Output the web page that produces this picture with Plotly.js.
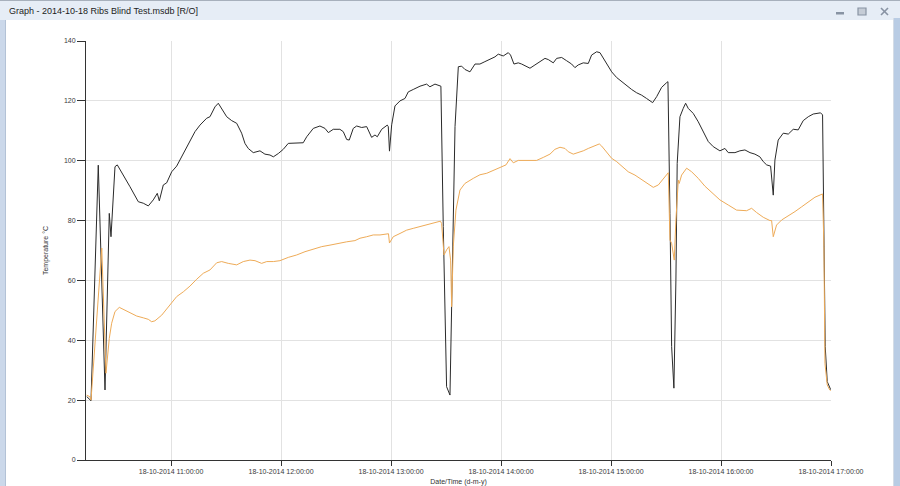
<!DOCTYPE html>
<html>
<head>
<meta charset="utf-8">
<script src="https://cdn.plot.ly/plotly-3.0.1.min.js"></script>
<style>html,body{margin:0;padding:0;background:#fff;}#chart{width:900px;height:486px;}</style>
</head>
<body>
<div id="chart"></div>
<script>
const chartDate = "2014-10-18";
const windowTitle = "Graph - 2014-10-18 Ribs Blind Test.msdb [R/O]";
const xAxisTitle = "Date/Time (d-m-y)";
const yAxisTitle = "Temperature °C";

const blackTimes = ["10:14:00","10:16:20","10:20:18","10:23:58","10:26:18","10:27:14","10:29:25","10:30:40","10:37:36","10:42:08",
"10:44:51","10:47:35","10:50:18","10:52:29","10:53:35","10:55:46","10:57:36","11:00:21","11:03:04","11:05:48",
"11:08:32","11:11:15","11:13:03","11:15:47","11:19:26","11:21:14","11:23:58","11:25:46","11:27:36","11:30:21",
"11:33:04","11:35:48","11:38:30","11:40:18","11:42:06","11:44:51","11:48:30","11:51:12","11:53:58","11:55:48",
"11:58:30","12:01:12","12:03:57","12:08:30","12:12:06","12:14:00","12:17:36","12:21:12","12:23:58","12:25:48",
"12:28:30","12:32:06","12:33:57","12:35:48","12:37:12","12:39:24","12:41:15","12:43:59","12:46:42","12:49:24",
"12:51:14","12:52:30","12:54:54","12:57:57","12:58:30","12:59:09","13:00:21","13:02:09","13:04:54","13:07:36",
"13:09:24","13:12:06","13:15:48","13:19:24","13:21:12","13:23:58","13:27:12","13:28:30","13:30:18","13:32:09",
"13:33:04","13:34:54","13:36:42","13:38:30","13:40:18","13:43:03","13:45:48","13:48:30","13:51:12","13:53:58",
"13:56:42","13:58:30","14:01:12","14:03:57","14:05:12","14:07:03","14:09:24","14:11:15","14:13:59","14:15:48",
"14:18:30","14:21:12","14:23:58","14:25:46","14:28:30","14:30:21","14:33:04","14:35:48","14:38:30","14:40:18",
"14:42:06","14:44:51","14:47:36","14:49:24","14:52:09","14:53:58","14:55:48","14:57:36","15:00:21","15:03:04",
"15:05:48","15:08:30","15:11:15","15:13:59","15:16:42","15:19:24","15:22:42","15:24:54","15:27:36","15:30:21",
"15:31:03","15:32:09","15:33:04","15:34:18","15:35:24","15:36:06","15:37:36","15:39:24","15:40:42","15:42:06",
"15:44:51","15:47:36","15:50:18","15:53:03","15:55:46","15:59:24","16:02:09","16:03:57","16:07:36","16:10:18",
"16:13:03","16:15:48","16:18:30","16:21:12","16:23:03","16:24:54","16:27:03","16:28:30","16:29:24","16:31:12",
"16:33:57","16:36:42","16:39:24","16:42:06","16:44:51","16:47:36","16:50:18","16:53:03","16:54:18","16:55:24",
"16:56:09","16:56:51","16:57:57","16:59:24","16:59:50"];
const blackValues = [21.2,19.8,98.5,23.4,82.4,74.6,98.0,98.6,91.3,86.3,
85.8,84.9,86.9,89.1,86.6,91.9,92.6,96.3,98.2,101.3,
104.1,107.5,109.7,111.9,114.2,114.7,118.0,119.2,117.5,114.7,
113.4,112.5,109.2,105.8,104.1,102.7,103.3,102.2,101.9,101.3,
102.4,103.8,105.8,105.8,106.0,108.0,110.8,111.6,110.8,109.4,
110.5,110.5,109.7,107.1,106.9,110.8,111.6,111.1,111.4,107.8,
108.6,108.0,110.5,111.9,111.4,103.2,112.0,118.3,120.0,120.8,
123.0,123.8,124.9,125.6,124.7,125.6,124.9,78.0,24.5,21.7,
55.7,111.4,131.4,131.6,130.5,129.7,132.3,132.3,133.1,133.8,
134.7,135.6,135.0,136.1,135.3,132.3,132.7,132.3,131.6,130.9,
132.0,133.1,134.2,133.8,132.7,134.2,134.5,133.4,132.3,131.1,
132.0,132.7,132.5,135.3,136.4,136.1,134.2,132.7,129.7,127.8,
126.4,124.9,123.8,122.7,121.9,120.8,119.4,121.4,124.5,126.1,
126.4,82.4,37.9,24.0,60.1,99.1,114.7,117.5,119.2,117.5,
115.8,113.0,109.7,106.4,104.7,103.3,104.1,102.7,102.7,103.3,
103.6,102.7,102.2,101.3,99.7,98.6,98.2,88.5,100.2,106.9,
109.2,108.9,110.5,110.3,113.4,114.7,115.6,115.8,116.0,115.3,
71.3,37.9,26.2,24.0,23.5];

const orangeTimes = ["10:14:00","10:15:47","10:16:20","10:22:12","10:24:30","10:26:18","10:27:36","10:29:25","10:31:46","10:33:57",
"10:37:36","10:41:15","10:44:51","10:47:35","10:49:24","10:51:12","10:54:54","10:59:24","11:03:04","11:06:42",
"11:10:18","11:13:59","11:17:36","11:21:14","11:24:54","11:27:36","11:31:12","11:35:48","11:39:24","11:43:03",
"11:45:48","11:49:24","11:52:12","11:55:48","11:59:24","12:03:57","12:08:30","12:13:03","12:17:36","12:22:12",
"12:26:42","12:31:12","12:35:48","12:40:18","12:43:03","12:46:42","12:50:18","12:53:58","12:57:36","12:58:36",
"12:59:09","13:01:12","13:04:54","13:08:30","13:12:06","13:15:48","13:19:24","13:23:03","13:26:57","13:27:36",
"13:28:54","13:30:18","13:31:36","13:32:30","13:33:04","13:33:57","13:35:24","13:37:36","13:40:18","13:44:51",
"13:48:30","13:52:12","13:56:42","14:01:12","14:02:42","14:04:54","14:06:42","14:09:24","14:13:59","14:19:24",
"14:23:03","14:26:42","14:29:24","14:32:09","14:34:54","14:36:42","14:39:24","14:42:06","14:44:51","14:47:36",
"14:51:12","14:53:36","14:54:54","14:57:36","15:00:21","15:03:04","15:05:48","15:09:24","15:13:03","15:16:42",
"15:20:18","15:23:03","15:25:48","15:28:30","15:31:15","15:32:09","15:33:04","15:34:30","15:35:24","15:36:42",
"15:37:12","15:38:30","15:41:15","15:43:59","15:47:36","15:51:12","15:54:54","15:59:24","16:03:57","16:08:30",
"16:13:58","16:16:42","16:19:24","16:23:03","16:26:42","16:27:36","16:28:30","16:30:18","16:33:04","16:36:42",
"16:40:21","16:44:00","16:47:36","16:51:15","16:55:24","16:56:09","16:56:42","16:57:57","16:59:18","16:59:50"];
const orangeValues = [21.7,21.1,20.0,70.8,29.0,40.6,45.7,49.6,51.0,50.3,
49.2,48.1,47.5,47.0,46.2,46.5,48.4,51.8,54.6,56.2,
58.1,60.4,62.4,63.5,65.9,66.3,65.7,65.2,66.3,66.8,
66.6,65.7,66.3,66.3,66.6,67.7,68.5,69.6,70.4,71.3,
71.8,72.4,72.9,73.3,74.1,74.6,75.2,75.2,75.5,75.6,
72.5,74.6,75.7,76.8,77.4,78.0,78.5,79.1,79.8,79.0,
68.5,70.2,71.3,66.8,51.2,71.3,83.5,90.2,92.4,94.1,
95.3,95.8,96.9,98.0,98.6,100.7,99.3,100.1,100.1,100.1,
101.1,102.2,103.8,104.5,104.1,103.0,102.2,102.7,103.3,104.1,
104.9,105.6,104.9,103.0,100.8,99.7,98.2,96.3,95.2,93.8,
92.2,91.1,91.9,94.1,96.0,73.5,72.4,66.8,80.2,93.5,
92.4,95.2,97.5,96.3,94.1,91.5,89.3,86.9,85.2,83.5,
83.3,84.1,82.7,81.1,80.0,80.0,74.6,78.5,80.2,81.5,
83.0,84.6,86.3,87.8,88.9,71.3,32.3,25.1,23.4,23.2];

const xRange = ["10:13:36", "17:00:00"];
const yRange = [0, 140];

const stamp = t => chartDate + " " + t;

const traces = [
  {x: blackTimes.map(stamp), y: blackValues, type: "scatter", mode: "lines",
   line: {color: "#2a2a2a", width: 1}, hoverinfo: "skip"},
  {x: orangeTimes.map(stamp), y: orangeValues, type: "scatter", mode: "lines",
   line: {color: "#eeab58", width: 1}, hoverinfo: "skip"}
];

// plot area in pixels: x 86..831, y 41..460
const PL = 86, PR = 831, PT = 41, PB = 460;
const PX = x => (x - PL) / (PR - PL);
const PY = y => (PB - y) / (PB - PT);
const rect = (x0, y0, x1, y1, fill, line) => ({type: "rect", xref: "paper", yref: "paper",
  x0: PX(x0), x1: PX(x1), y0: PY(y1), y1: PY(y0), fillcolor: fill,
  line: line || {width: 0}, layer: "above"});
const seg = (x0, y0, x1, y1, color, w) => ({type: "line", xref: "paper", yref: "paper",
  x0: PX(x0), x1: PX(x1), y0: PY(y0), y1: PY(y1), line: {color: color, width: w || 1}, layer: "above"});

const shapes = [
  rect(0, 0, 900, 20, "#e6edf6"),
  seg(0, 0.5, 900, 0.5, "#a7b0bc"),
  rect(0, 20, 5, 486, "#cbd8ea"),
  seg(5.5, 20, 5.5, 486, "#b3c2d6"),
  rect(894, 18, 900, 486, "#b9cce4"),
  seg(893.5, 18, 893.5, 486, "#d4dce6"),
  rect(836, 12, 844, 14.5, "#8893a3"),
  rect(858, 8, 866, 15, "#c5ccd6", {color: "#8893a3", width: 1.2}),
  seg(881, 8, 888, 15, "#8893a3", 1.6),
  seg(881, 15, 888, 8, "#8893a3", 1.6)
];

const annotations = [
  {text: windowTitle, xref: "paper", yref: "paper", x: PX(7), y: PY(10.5), xanchor: "left", yanchor: "middle",
   showarrow: false, font: {family: "Liberation Sans", size: 9, color: "#1c1c1c"}}
];

const tickFont = {family: "Liberation Sans", size: 7, color: "#3a3a3a"};

const layout = {
  width: 900, height: 486,
  margin: {l: PL, r: 900 - PR, t: PT, b: 486 - PB, pad: 0},
  paper_bgcolor: "#ffffff", plot_bgcolor: "#ffffff",
  showlegend: false,
  xaxis: {
    type: "date", range: xRange.map(stamp),
    tickformat: "%d-%m-%Y %H:%M:%S", dtick: 3600000, tick0: stamp("11:00:00"),
    ticks: "outside", ticklen: 5, tickwidth: 1, tickcolor: "#333333",
    showline: true, linecolor: "#333333", linewidth: 1,
    showgrid: true, gridcolor: "#e2e2e2", gridwidth: 1, zeroline: false,
    tickfont: tickFont,
    title: {text: xAxisTitle, font: {family: "Liberation Sans", size: 7, color: "#333333"}, standoff: 6}
  },
  yaxis: {
    range: yRange, dtick: 20, tick0: 0,
    ticks: "outside", ticklen: 8, tickwidth: 1, tickcolor: "#333333",
    showline: true, linecolor: "#333333", linewidth: 1,
    showgrid: true, gridcolor: "#e2e2e2", gridwidth: 1, zeroline: false,
    tickfont: tickFont,
    title: {text: yAxisTitle, font: {family: "Liberation Sans", size: 7, color: "#333333"}, standoff: 14}
  },
  shapes: shapes,
  annotations: annotations
};

Plotly.newPlot("chart", traces, layout, {displayModeBar: false, staticPlot: true});
</script>
</body>
</html>
